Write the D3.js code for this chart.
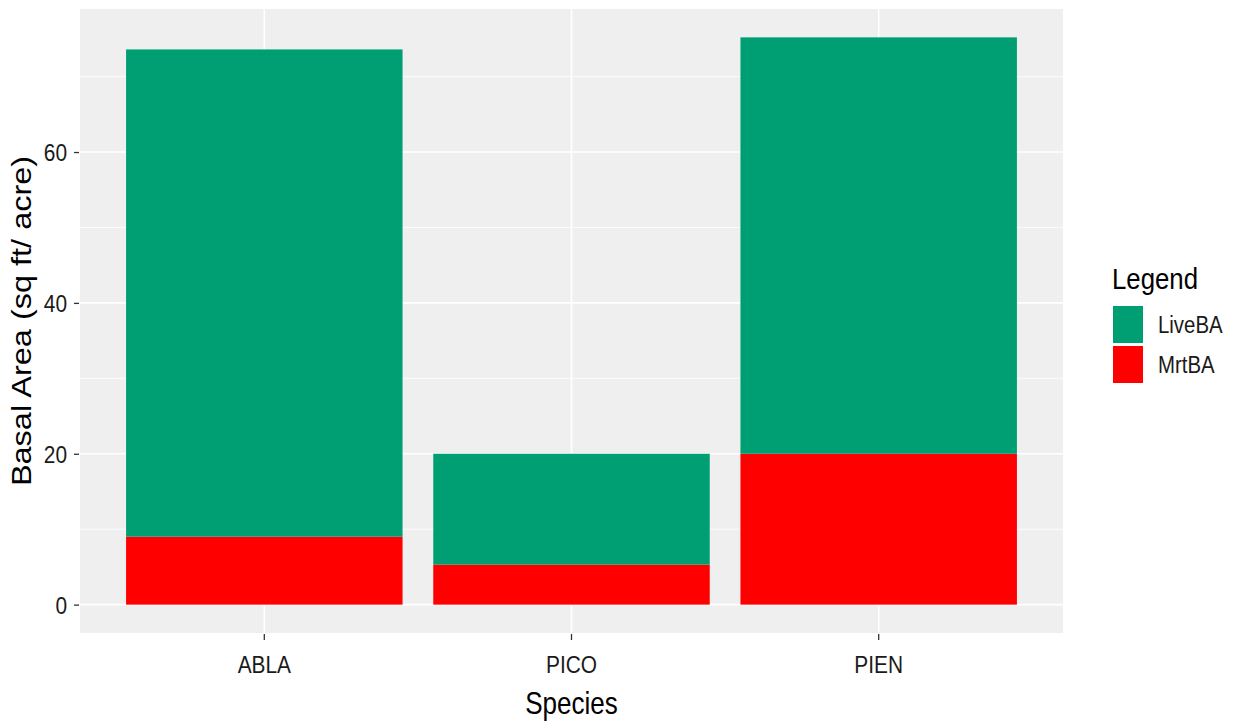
<!DOCTYPE html>
<html>
<head>
<meta charset="utf-8">
<script src="https://cdn.jsdelivr.net/npm/d3@7"></script>
<style>
  html, body { margin: 0; padding: 0; background: #ffffff; }
  svg { display: block; }
  text { font-family: "Liberation Sans", Arial, sans-serif; }
</style>
</head>
<body>
<svg id="chart" width="1236" height="725"></svg>
<script>
// ---- data ----
const species = ["ABLA", "PICO", "PIEN"];
const mrtBA = [9.0, 5.3, 20.0];
const liveBA = [64.6, 14.7, 55.2];   // stacked on top of MrtBA
const seriesNames = ["LiveBA", "MrtBA"];
const seriesColors = ["#009E73", "#FF0000"];
const yTicks = [0, 20, 40, 60];
const yMinorTicks = [10, 30, 50, 70];
const xTitle = "Species";
const yTitle = "Basal Area (sq ft/ acre)";
const legendTitle = "Legend";

// ---- layout ----
const svg = d3.select("#chart");
const panel = { left: 80, right: 1063, top: 9, bottom: 633 };

const totals = species.map((s, i) => mrtBA[i] + liveBA[i]);
const maxV = d3.max(totals);
const pad = maxV * 0.05;

const y = d3.scaleLinear().domain([-pad, maxV + pad]).range([panel.bottom, panel.top]);
const x = d3.scaleBand().domain(species).range([panel.left, panel.right])
  .paddingInner(0.1).paddingOuter(0.15);

// panel background
svg.append("rect")
  .attr("x", panel.left).attr("y", panel.top)
  .attr("width", panel.right - panel.left).attr("height", panel.bottom - panel.top)
  .attr("fill", "#EFEFEF");

// minor gridlines
svg.append("g").selectAll("line").data(yMinorTicks).join("line")
  .attr("x1", panel.left).attr("x2", panel.right)
  .attr("y1", d => y(d)).attr("y2", d => y(d))
  .attr("stroke", "#ffffff").attr("stroke-width", 0.8);

// major gridlines
svg.append("g").selectAll("line").data(yTicks).join("line")
  .attr("x1", panel.left).attr("x2", panel.right)
  .attr("y1", d => y(d)).attr("y2", d => y(d))
  .attr("stroke", "#ffffff").attr("stroke-width", 1.6);
svg.append("g").selectAll("line").data(species).join("line")
  .attr("y1", panel.top).attr("y2", panel.bottom)
  .attr("x1", d => x(d) + x.bandwidth() / 2).attr("x2", d => x(d) + x.bandwidth() / 2)
  .attr("stroke", "#ffffff").attr("stroke-width", 1.6);

// stacked bars
const rows = species.map((s, i) => ({ species: s, LiveBA: liveBA[i], MrtBA: mrtBA[i] }));
const stack = d3.stack().keys(["MrtBA", "LiveBA"])(rows);
const color = d3.scaleOrdinal().domain(seriesNames).range(seriesColors);
svg.append("g").selectAll("g").data(stack).join("g")
  .attr("fill", d => color(d.key))
  .selectAll("rect").data(d => d).join("rect")
  .attr("x", d => x(d.data.species))
  .attr("width", x.bandwidth())
  .attr("y", d => y(d[1]))
  .attr("height", d => y(d[0]) - y(d[1]));

// y axis
const yAxis = svg.append("g")
  .attr("transform", `translate(${panel.left},0)`)
  .call(d3.axisLeft(y).tickValues(yTicks).tickSize(5).tickPadding(4).tickFormat(d3.format("d")));
yAxis.select(".domain").remove();
yAxis.selectAll(".tick line").attr("stroke", "#333333").attr("stroke-width", 1.3).attr("transform", "translate(-1,0)");
yAxis.selectAll(".tick text")
  .attr("fill", "#1a1a1a").attr("font-size", 24)
  .attr("x", -13 / 0.87).attr("dy", "0.36em")
  .attr("transform", `scale(0.87,1)`);

// x axis
const xAxis = svg.append("g")
  .attr("transform", `translate(0,${panel.bottom})`)
  .call(d3.axisBottom(x).tickSize(6).tickPadding(4));
xAxis.select(".domain").remove();
xAxis.selectAll(".tick line").attr("stroke", "#333333").attr("stroke-width", 1.3).attr("transform", "translate(0,1)");
xAxis.selectAll(".tick text")
  .attr("fill", "#1a1a1a").attr("font-size", 24)
  .attr("y", 0).attr("dy", 0)
  .attr("transform", `translate(0,40) scale(0.87,1)`);

// axis titles
svg.append("g")
  .attr("transform", `translate(${(panel.left + panel.right) / 2},714) scale(0.84,1)`)
  .append("text").attr("text-anchor", "middle").attr("font-size", 31).attr("fill", "#000")
  .text(xTitle);

svg.append("g")
  .attr("transform", `translate(31,${(panel.top + panel.bottom) / 2}) rotate(-90) scale(1.16,1)`)
  .append("text").attr("text-anchor", "middle").attr("font-size", 28).attr("fill", "#000")
  .text(yTitle);

// legend
const legend = svg.append("g");
legend.append("g").attr("transform", `translate(1112,289) scale(0.86,1)`)
  .append("text").attr("font-size", 30).attr("fill", "#000").text(legendTitle);
const keyW = 30, keyH = 37, keyGap = 3, keyX = 1113, keyY = 306;
const items = legend.selectAll("g.item").data(seriesNames).join("g")
  .attr("class", "item")
  .attr("transform", (d, i) => `translate(${keyX},${keyY + i * (keyH + keyGap)})`);
items.append("rect").attr("width", keyW).attr("height", keyH).attr("fill", d => color(d));
items.append("g").attr("transform", `translate(${keyW + 15},${keyH / 2}) scale(0.85,1)`)
  .append("text").attr("font-size", 24).attr("dy", "0.36em").attr("fill", "#1a1a1a")
  .text(d => d);
</script>
</body>
</html>
